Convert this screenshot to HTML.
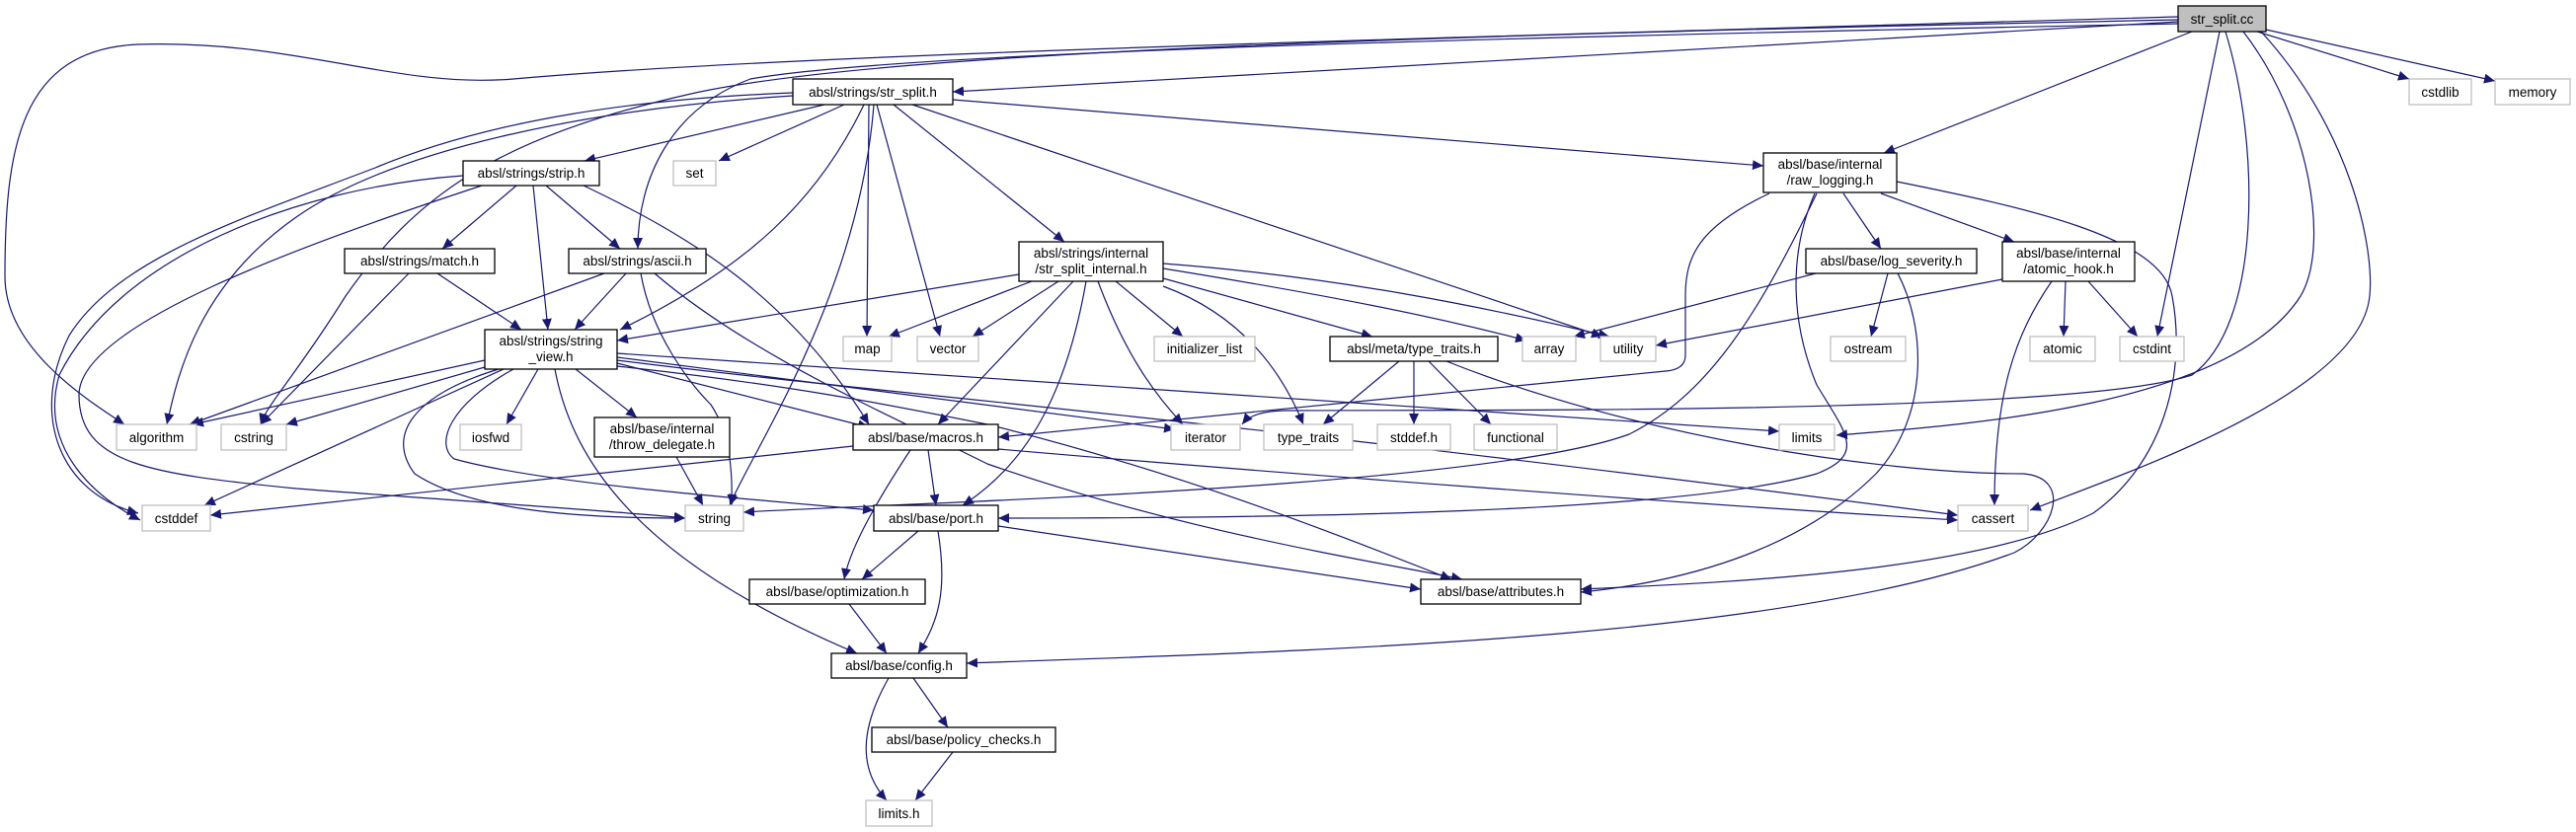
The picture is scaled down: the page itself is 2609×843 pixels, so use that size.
<!DOCTYPE html>
<html><head><meta charset="utf-8"><style>
html,body{margin:0;padding:0;background:#fff;}
svg{display:block;}
text{font-family:"Liberation Sans","DejaVu Sans",sans-serif;font-size:13.5px;fill:#000;}
.e{fill:none;stroke:#191970;stroke-width:1.2;marker-end:url(#a);}
.n{fill:#fff;stroke:#000;stroke-width:1.3;}
.g{fill:#fff;stroke:#bfbfbf;stroke-width:1.3;}
</style></head><body>
<svg width="2609" height="843" viewBox="0 0 2609 843" xmlns="http://www.w3.org/2000/svg">
<defs><marker id="a" markerUnits="userSpaceOnUse" markerWidth="12" markerHeight="10" refX="11" refY="5" orient="auto"><path d="M0,0 L11,5 L0,10 z" fill="#191970"/></marker></defs>
<g>
<path class="e" d="M2206,22 L965,93"/>
<path class="e" d="M2206,17 C1400,40 800,55 520,80 C400,90 300,40 140,45 C20,50 5,150 5,280 C5,350 80,400 126,430"/>
<path class="e" d="M2206,20 C1500,35 900,50 700,95 C500,140 420,200 350,300 C300,380 270,410 264,430"/>
<path class="e" d="M2206,24 C1400,40 900,55 760,80 C680,110 646,180 646,252"/>
<path class="e" d="M2220,32 L1908,155"/>
<path class="e" d="M2248,32 L2185,341"/>
<path class="e" d="M2254,32 C2290,150 2290,330 2220,380 C2100,420 1500,415 1300,416 C1270,417 1262,425 1258,430"/>
<path class="e" d="M2272,32 C2340,120 2360,250 2330,300 C2260,410 2000,430 1860,441"/>
<path class="e" d="M2290,32 C2380,130 2405,250 2400,300 C2390,400 2150,480 2056,517"/>
<path class="e" d="M2286,32 L2440,80"/>
<path class="e" d="M2295,30 L2527,82"/>
<path class="e" d="M835,106 L592,163"/>
<path class="e" d="M855,106 L728,163"/>
<path class="e" d="M875,106 C830,200 760,270 628,334"/>
<path class="e" d="M880,106 L878,341"/>
<path class="e" d="M888,106 L952,341"/>
<path class="e" d="M885,106 C870,300 760,460 739,512"/>
<path class="e" d="M905,106 L1078,245"/>
<path class="e" d="M924,106 L1623,341"/>
<path class="e" d="M965,101 L1786,168"/>
<path class="e" d="M803,94 C650,100 500,120 380,170 C250,220 120,260 70,340 C30,420 60,500 140,520"/>
<path class="e" d="M803,97 C600,110 400,150 300,220 C200,290 180,380 169,430"/>
<path class="e" d="M523,188 L448,252"/>
<path class="e" d="M540,188 L555,334"/>
<path class="e" d="M553,188 L628,252"/>
<path class="e" d="M469,178 C300,190 120,260 60,380 C40,450 90,500 142,527"/>
<path class="e" d="M488,188 C300,250 80,330 80,400 C80,470 150,480 300,495 C500,510 650,520 694,525"/>
<path class="e" d="M591,188 C700,240 800,300 880,430"/>
<path class="e" d="M443,277 L528,334"/>
<path class="e" d="M414,277 L264,430"/>
<path class="e" d="M634,277 L582,334"/>
<path class="e" d="M612,277 L192,430"/>
<path class="e" d="M649,277 C660,340 700,390 720,410 C740,440 742,480 741,512"/>
<path class="e" d="M663,277 C760,360 900,420 1000,470 C1200,540 1400,570 1481,587"/>
<path class="e" d="M491,365 L195,430"/>
<path class="e" d="M491,372 L290,430"/>
<path class="e" d="M510,374 L207,512"/>
<path class="e" d="M545,374 L513,430"/>
<path class="e" d="M583,374 L645,423"/>
<path class="e" d="M505,374 C420,400 390,440 420,480 C480,520 600,525 694,525"/>
<path class="e" d="M562,374 C580,470 650,570 868,662"/>
<path class="e" d="M520,374 C455,410 440,450 460,465 C550,490 750,505 885,517"/>
<path class="e" d="M625,368 L880,433"/>
<path class="e" d="M625,362 L1190,435"/>
<path class="e" d="M625,358 L1802,437"/>
<path class="e" d="M625,365 C900,400 1200,420 1983,522"/>
<path class="e" d="M625,371 C800,390 900,410 1000,430 C1200,480 1350,540 1470,587"/>
<path class="e" d="M1032,278 L625,345"/>
<path class="e" d="M1045,285 L900,341"/>
<path class="e" d="M1072,285 L985,341"/>
<path class="e" d="M1087,285 L950,430"/>
<path class="e" d="M1100,285 C1080,400 1040,470 975,512"/>
<path class="e" d="M1112,285 C1140,360 1170,400 1198,430"/>
<path class="e" d="M1130,285 L1198,341"/>
<path class="e" d="M1178,282 L1390,341"/>
<path class="e" d="M1178,290 C1260,320 1300,380 1320,430"/>
<path class="e" d="M1178,272 C1350,300 1450,320 1546,345"/>
<path class="e" d="M1178,267 C1350,280 1500,310 1630,341"/>
<path class="e" d="M1417,366 L1340,430"/>
<path class="e" d="M1432,366 L1432,430"/>
<path class="e" d="M1447,366 L1510,430"/>
<path class="e" d="M1465,366 C1650,440 1900,480 2050,480 C2100,485 2080,540 2040,560 C1800,650 1300,660 979,672"/>
<path class="e" d="M1792,196 C1720,230 1707,260 1707,300 L1707,360 C1707,370 1700,375 1687,376 L1011,443"/>
<path class="e" d="M1840,196 C1780,320 1730,400 1650,440 C1500,495 900,510 753,519"/>
<path class="e" d="M1838,196 C1810,260 1815,330 1840,390 C1870,440 1890,460 1840,480 C1700,520 1300,525 1011,525"/>
<path class="e" d="M1867,196 L1905,252"/>
<path class="e" d="M1905,196 L2040,245"/>
<path class="e" d="M1921,184 C2050,210 2190,240 2200,300 C2215,380 2190,470 2120,520 C2000,580 1750,590 1601,597"/>
<path class="e" d="M1839,277 L1594,341"/>
<path class="e" d="M1912,277 L1895,341"/>
<path class="e" d="M1922,277 C1950,330 1955,420 1900,480 C1820,560 1700,590 1601,600"/>
<path class="e" d="M2028,283 L1677,350"/>
<path class="e" d="M2092,285 L2090,341"/>
<path class="e" d="M2115,285 L2165,341"/>
<path class="e" d="M2078,285 C2040,340 2020,400 2020,512"/>
<path class="e" d="M864,452 L213,522"/>
<path class="e" d="M940,456 L948,512"/>
<path class="e" d="M922,456 C880,520 860,560 855,587"/>
<path class="e" d="M1011,455 C1300,480 1700,510 1983,527"/>
<path class="e" d="M930,538 L873,587"/>
<path class="e" d="M950,538 C960,600 950,630 930,662"/>
<path class="e" d="M1011,533 L1439,597"/>
<path class="e" d="M860,612 L898,662"/>
<path class="e" d="M925,687 L960,737"/>
<path class="e" d="M900,687 C870,740 870,780 898,811"/>
<path class="e" d="M965,762 L927,811"/>
<path class="e" d="M685,463 L712,512"/>
</g>
<g>
<rect x="2206" y="6" width="89" height="26" fill="#bfbfbf" stroke="#000" stroke-width="1.3"/><text x="2250.5" y="24" text-anchor="middle">str_split.cc</text>
<rect class="n" x="803" y="80" width="162" height="26"/><text x="884" y="98" text-anchor="middle">absl/strings/str_split.h</text>
<rect class="n" x="1786" y="155" width="135" height="40"/><text x="1853.5" y="171" text-anchor="middle">absl/base/internal</text><text x="1853.5" y="187" text-anchor="middle">/raw_logging.h</text>
<rect class="g" x="2440" y="80" width="63" height="26"/><text x="2471.5" y="98" text-anchor="middle">cstdlib</text>
<rect class="g" x="2527" y="80" width="76" height="26"/><text x="2565" y="98" text-anchor="middle">memory</text>
<rect class="n" x="469" y="163" width="138" height="25"/><text x="538" y="180" text-anchor="middle">absl/strings/strip.h</text>
<rect class="g" x="682" y="163" width="43" height="25"/><text x="703.5" y="180" text-anchor="middle">set</text>
<rect class="n" x="349" y="252" width="152" height="25"/><text x="425" y="269" text-anchor="middle">absl/strings/match.h</text>
<rect class="n" x="576" y="252" width="139" height="25"/><text x="645.5" y="269" text-anchor="middle">absl/strings/ascii.h</text>
<rect class="n" x="1032" y="245" width="146" height="40"/><text x="1105" y="261" text-anchor="middle">absl/strings/internal</text><text x="1105" y="277" text-anchor="middle">/str_split_internal.h</text>
<rect class="n" x="1829" y="252" width="173" height="25"/><text x="1915.5" y="269" text-anchor="middle">absl/base/log_severity.h</text>
<rect class="n" x="2028" y="245" width="134" height="40"/><text x="2095" y="261" text-anchor="middle">absl/base/internal</text><text x="2095" y="277" text-anchor="middle">/atomic_hook.h</text>
<rect class="n" x="491" y="334" width="134" height="40"/><text x="558" y="350" text-anchor="middle">absl/strings/string</text><text x="558" y="366" text-anchor="middle">_view.h</text>
<rect class="g" x="854" y="341" width="49" height="25"/><text x="878.5" y="358" text-anchor="middle">map</text>
<rect class="g" x="929" y="341" width="62" height="25"/><text x="960" y="358" text-anchor="middle">vector</text>
<rect class="g" x="1169" y="341" width="102" height="25"/><text x="1220" y="358" text-anchor="middle">initializer_list</text>
<rect class="n" x="1347" y="341" width="170" height="25"/><text x="1432" y="358" text-anchor="middle">absl/meta/type_traits.h</text>
<rect class="g" x="1542" y="341" width="54" height="25"/><text x="1569" y="358" text-anchor="middle">array</text>
<rect class="g" x="1621" y="341" width="56" height="25"/><text x="1649" y="358" text-anchor="middle">utility</text>
<rect class="g" x="1854" y="341" width="76" height="25"/><text x="1892" y="358" text-anchor="middle">ostream</text>
<rect class="g" x="2056" y="341" width="66" height="25"/><text x="2089" y="358" text-anchor="middle">atomic</text>
<rect class="g" x="2147" y="341" width="65" height="25"/><text x="2179.5" y="358" text-anchor="middle">cstdint</text>
<rect class="g" x="118" y="430" width="81" height="26"/><text x="158.5" y="448" text-anchor="middle">algorithm</text>
<rect class="g" x="224" y="430" width="66" height="26"/><text x="257" y="448" text-anchor="middle">cstring</text>
<rect class="g" x="466" y="430" width="62" height="26"/><text x="497" y="448" text-anchor="middle">iosfwd</text>
<rect class="n" x="602" y="423" width="137" height="40"/><text x="670.5" y="439" text-anchor="middle">absl/base/internal</text><text x="670.5" y="455" text-anchor="middle">/throw_delegate.h</text>
<rect class="n" x="864" y="430" width="147" height="26"/><text x="937.5" y="448" text-anchor="middle">absl/base/macros.h</text>
<rect class="g" x="1186" y="430" width="70" height="26"/><text x="1221" y="448" text-anchor="middle">iterator</text>
<rect class="g" x="1280" y="430" width="90" height="26"/><text x="1325" y="448" text-anchor="middle">type_traits</text>
<rect class="g" x="1395" y="430" width="74" height="26"/><text x="1432" y="448" text-anchor="middle">stddef.h</text>
<rect class="g" x="1493" y="430" width="84" height="26"/><text x="1535" y="448" text-anchor="middle">functional</text>
<rect class="g" x="1802" y="430" width="56" height="26"/><text x="1830" y="448" text-anchor="middle">limits</text>
<rect class="g" x="144" y="512" width="69" height="26"/><text x="178.5" y="530" text-anchor="middle">cstddef</text>
<rect class="g" x="694" y="512" width="59" height="26"/><text x="723.5" y="530" text-anchor="middle">string</text>
<rect class="n" x="885" y="512" width="126" height="26"/><text x="948" y="530" text-anchor="middle">absl/base/port.h</text>
<rect class="g" x="1983" y="512" width="71" height="26"/><text x="2018.5" y="530" text-anchor="middle">cassert</text>
<rect class="n" x="759" y="587" width="178" height="25"/><text x="848" y="604" text-anchor="middle">absl/base/optimization.h</text>
<rect class="n" x="1439" y="587" width="162" height="25"/><text x="1520" y="604" text-anchor="middle">absl/base/attributes.h</text>
<rect class="n" x="842" y="662" width="137" height="25"/><text x="910.5" y="679" text-anchor="middle">absl/base/config.h</text>
<rect class="n" x="883" y="737" width="186" height="25"/><text x="976" y="754" text-anchor="middle">absl/base/policy_checks.h</text>
<rect class="g" x="877" y="811" width="67" height="26"/><text x="910.5" y="829" text-anchor="middle">limits.h</text>
</g>
</svg>
</body></html>
